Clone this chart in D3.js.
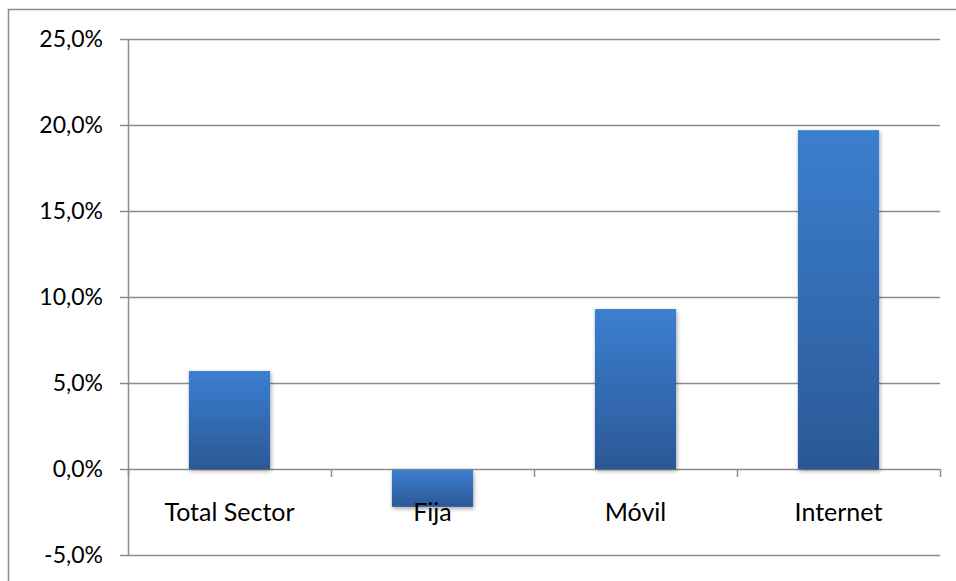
<!DOCTYPE html>
<html>
<head>
<meta charset="utf-8">
<script src="https://cdn.jsdelivr.net/npm/d3@7"></script>
<style>
  html, body { margin: 0; padding: 0; background: #fff; }
  svg { display: block; }
  text { font-family: Lato, "Open Sans", sans-serif; fill: #000; }
</style>
</head>
<body>
<svg id="chart" width="956" height="581"></svg>
<script>
// Annual variation by segment
const categories = ["Total Sector", "Fija", "Móvil", "Internet"];
const values = [5.7, -2.2, 9.3, 19.7];
const yTicks = [-5, 0, 5, 10, 15, 20, 25];

const svg = d3.select("#chart");
const W = 956, H = 581;
const plot = { left: 128, right: 940, top: 39, bottom: 555 };

const defs = svg.append("defs");
const grad = defs.append("linearGradient")
  .attr("id", "barGrad").attr("x1", 0).attr("y1", 0).attr("x2", 0).attr("y2", 1);
grad.append("stop").attr("offset", "0%").attr("stop-color", "#3b7fd0");
grad.append("stop").attr("offset", "100%").attr("stop-color", "#2b5896");

const shadow = defs.append("filter").attr("id", "shadow")
  .attr("x", "-20%").attr("y", "-20%").attr("width", "140%").attr("height", "140%");
shadow.append("feGaussianBlur").attr("in", "SourceAlpha").attr("stdDeviation", 2);
shadow.append("feOffset").attr("dx", 1).attr("dy", 2).attr("result", "off");
shadow.append("feComponentTransfer").append("feFuncA").attr("type", "linear").attr("slope", 0.35);
const merge = shadow.append("feMerge");
merge.append("feMergeNode");
merge.append("feMergeNode").attr("in", "SourceGraphic");

// outer chart frame
svg.append("rect")
  .attr("x", 8.5).attr("y", 9.5).attr("width", W + 10).attr("height", H + 10)
  .attr("fill", "none").attr("stroke", "#8c8c8c").attr("stroke-width", 1.5);

const x = d3.scaleBand().domain(categories).range([plot.left, plot.right])
  .paddingInner(0.6).paddingOuter(0.3);
const y = d3.scaleLinear().domain([-5, 25]).range([plot.bottom, plot.top]);

// horizontal gridlines
svg.append("g").selectAll("line").data(yTicks).join("line")
  .attr("x1", plot.left - 8).attr("x2", plot.right)
  .attr("y1", d => Math.round(y(d)) + 0.5).attr("y2", d => Math.round(y(d)) + 0.5)
  .attr("stroke", "#8c8c8c").attr("stroke-width", 1.5);

// vertical axis line
svg.append("line")
  .attr("x1", plot.left + 0.5).attr("x2", plot.left + 0.5)
  .attr("y1", y(25)).attr("y2", y(-5))
  .attr("stroke", "#8c8c8c").attr("stroke-width", 1.5);

// y tick labels
svg.append("g").selectAll("text").data(yTicks).join("text")
  .attr("x", plot.left - 25).attr("y", d => y(d))
  .attr("dy", "0.35em").attr("text-anchor", "end")
  .attr("font-size", 23)
  .text(d => d3.format(".1f")(d).replace(".", ",").replace("−", "-") + "%");

// category ticks at the zero line
const step = (plot.right - plot.left) / categories.length;
const catTicks = d3.range(categories.length + 1).map(i => plot.left + i * step);
svg.append("g").selectAll("line").data(catTicks).join("line")
  .attr("x1", d => Math.round(d) + 0.5).attr("x2", d => Math.round(d) + 0.5)
  .attr("y1", y(0)).attr("y2", y(0) + 8)
  .attr("stroke", "#8c8c8c").attr("stroke-width", 1.5);

// bars
svg.append("g").selectAll("rect").data(values).join("rect")
  .attr("x", (d, i) => x(categories[i]))
  .attr("width", x.bandwidth())
  .attr("y", d => y(Math.max(0, d)) + (d < 0 ? 1 : 0))
  .attr("height", d => Math.abs(y(d) - y(0)) - (d < 0 ? 1 : 0))
  .attr("fill", "url(#barGrad)")
  .attr("filter", "url(#shadow)");

// category labels
svg.append("g").selectAll("text").data(categories).join("text")
  .attr("x", d => x(d) + x.bandwidth() / 2)
  .attr("y", y(0) + 43)
  .attr("dy", "0.35em").attr("text-anchor", "middle")
  .attr("font-size", 25)
  .text(d => d);
</script>
</body>
</html>
